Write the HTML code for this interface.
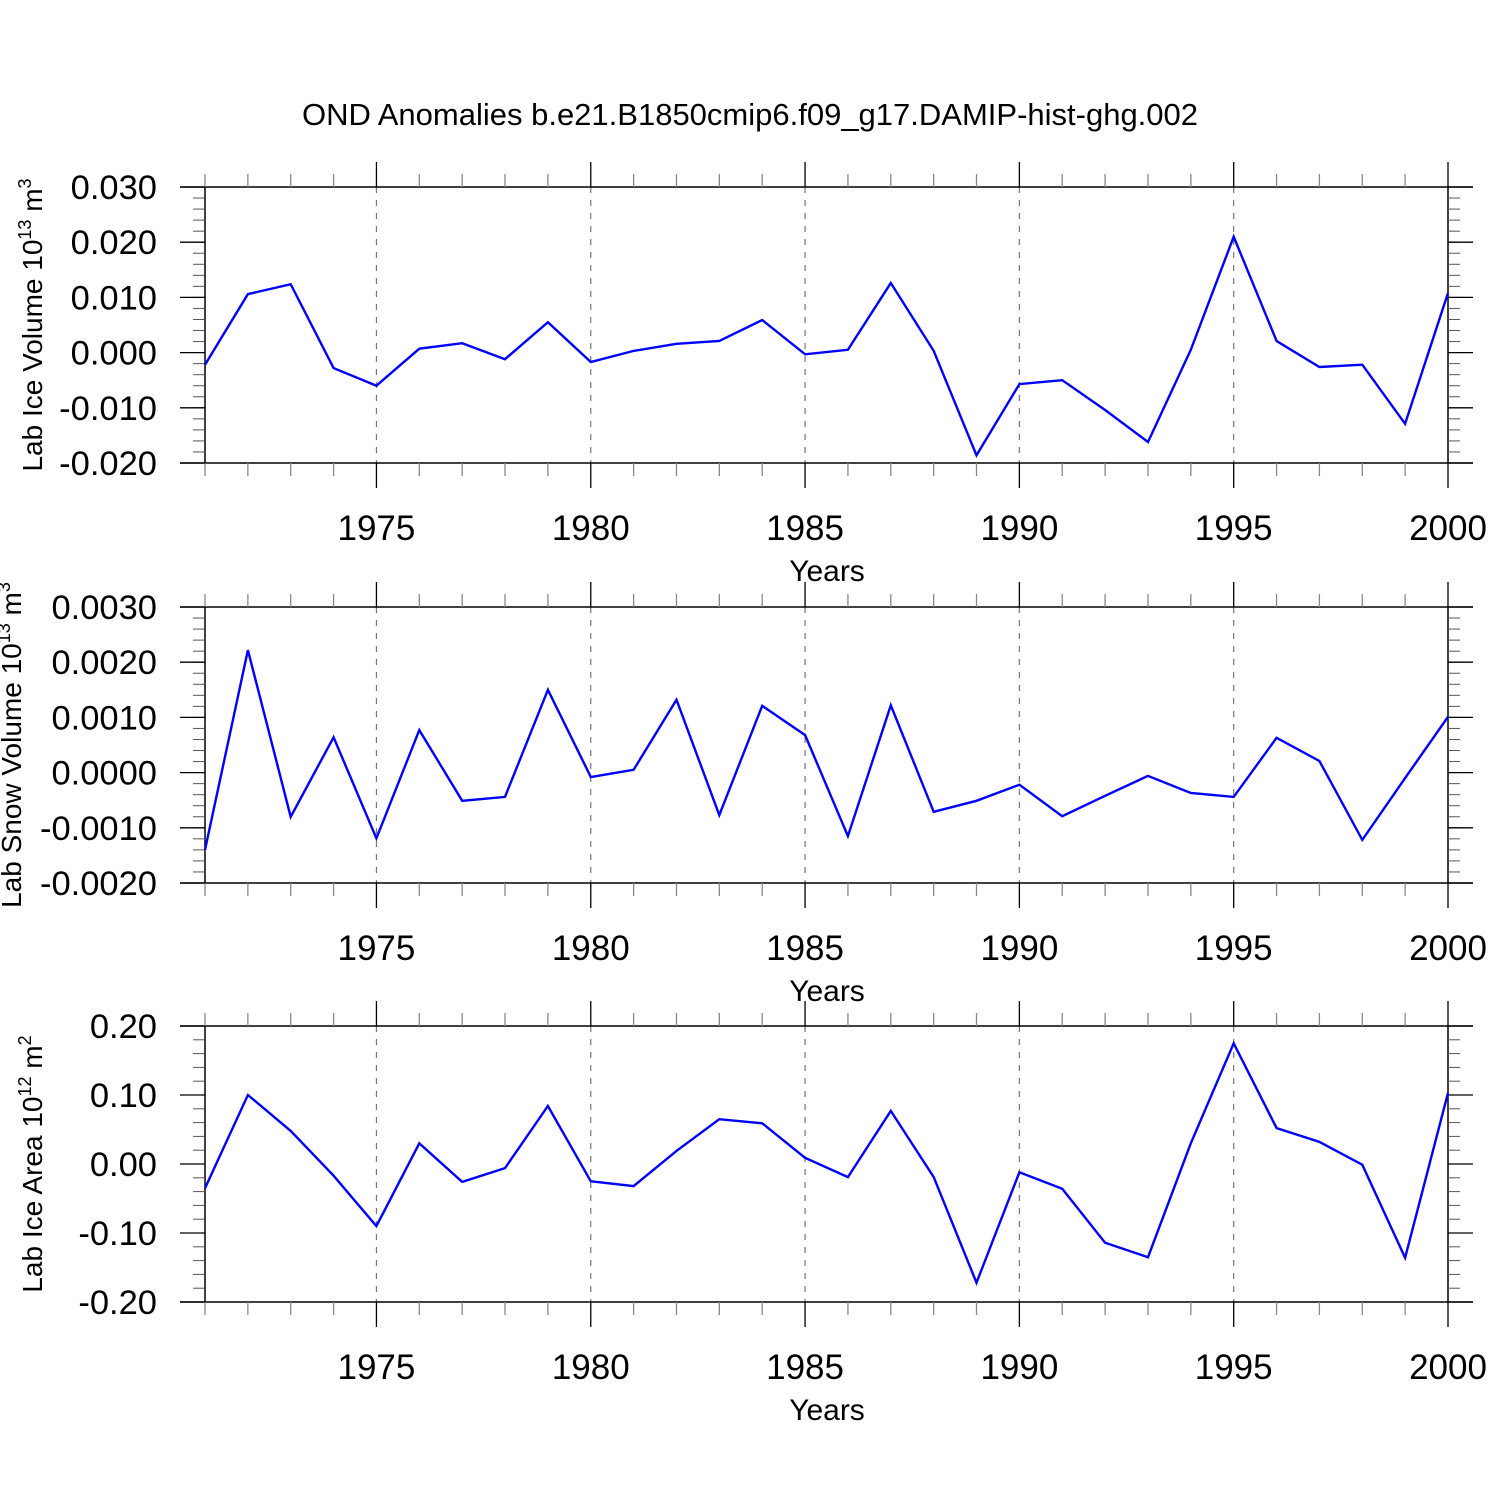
<!DOCTYPE html>
<html><head><meta charset="utf-8"><style>
html,body{margin:0;padding:0;background:#fff;}
svg{display:block;font-family:"Liberation Sans",sans-serif;}
</style></head><body>
<svg id="chart" width="1500" height="1500" viewBox="0 0 1500 1500" xmlns="http://www.w3.org/2000/svg">
<text x="750" y="125" text-anchor="middle" font-size="31">OND Anomalies b.e21.B1850cmip6.f09_g17.DAMIP-hist-ghg.002</text>
</svg>
<script>
const years = [1971,1972,1973,1974,1975,1976,1977,1978,1979,1980,1981,1982,1983,1984,1985,1986,1987,1988,1989,1990,1991,1992,1993,1994,1995,1996,1997,1998,1999,2000];
const iceVolume = [-0.0022,0.0106,0.0124,-0.0028,-0.0060,0.0007,0.0017,-0.0012,0.0055,-0.0017,0.0003,0.0016,0.0021,0.0059,-0.0003,0.0005,0.0126,0.0003,-0.0186,-0.0057,-0.0050,-0.0104,-0.0162,0.0005,0.0210,0.0021,-0.0026,-0.0022,-0.0129,0.0108];
const snowVolume = [-0.00140,0.00222,-0.00080,0.00064,-0.00119,0.00077,-0.00051,-0.00044,0.00150,-0.00008,0.00005,0.00132,-0.00077,0.00121,0.00068,-0.00115,0.00122,-0.00071,-0.00051,-0.00022,-0.00079,-0.00042,-0.00006,-0.00037,-0.00044,0.00063,0.00021,-0.00122,-0.00010,0.00101];
const iceArea = [-0.035,0.100,0.048,-0.017,-0.090,0.030,-0.026,-0.006,0.084,-0.025,-0.032,0.019,0.065,0.059,0.009,-0.019,0.077,-0.019,-0.172,-0.012,-0.036,-0.114,-0.135,0.030,0.175,0.052,0.032,-0.001,-0.136,0.103];
const xTickYears = [1975,1980,1985,1990,1995,2000];
const iceVolTicks = [-0.020,-0.010,0.000,0.010,0.020,0.030];
const iceVolLabels = ["-0.020","-0.010","0.000","0.010","0.020","0.030"];
const snowTicks = [-0.0020,-0.0010,0.0000,0.0010,0.0020,0.0030];
const snowLabels = ["-0.0020","-0.0010","0.0000","0.0010","0.0020","0.0030"];
const areaTicks = [-0.20,-0.10,0.00,0.10,0.20];
const areaLabels = ["-0.20","-0.10","0.00","0.10","0.20"];

const NS = "http://www.w3.org/2000/svg";
const svg = document.getElementById("chart");
function mk(tag, attrs, parent){const e=document.createElementNS(NS,tag);for(const k in attrs)e.setAttribute(k,attrs[k]);(parent||svg).appendChild(e);return e;}
const X0=205, X1=1448, Y0=1971, Y1=2000;
const xScale = y => X0 + (y - Y0) * (X1 - X0) / (Y1 - Y0);

function panel(name, top, bottom, vmin, vmax, ticks, labels, minorStep, data, titleParts, titleX){
  const g = mk("g", {});
  
  
  const yScale = v => bottom - (v - vmin) * (bottom - top) / (vmax - vmin);
  xTickYears.slice(0,5).forEach(yr=>{
    const l = mk("line",{x1:xScale(yr),x2:xScale(yr),y1:top,y2:bottom,stroke:"#777","stroke-width":1.2,"stroke-dasharray":"6,7"},g);
    
    
  });
  [[180,1473,top,top],[180,1473,bottom,bottom],[X0,X0,top,bottom],[X1,X1,top,bottom]].forEach(c=>{
    mk("line",{x1:c[0],x2:c[1],y1:c[2],y2:c[3],stroke:"#000","stroke-width":1.5},g);
  });
  years.forEach(yr=>{
    const major = yr % 5 === 0;
    const len = major ? 25 : 13;
    const col = major ? "#000" : "#888";
    const x = xScale(yr);
    mk("line",{x1:x,x2:x,y1:top,y2:top-len,stroke:col,"stroke-width":1.3},g);
    mk("line",{x1:x,x2:x,y1:bottom,y2:bottom+len,stroke:col,"stroke-width":1.3},g);
  });
  const step=(vmax-vmin)/minorStep;
  for(let i=0;i<=minorStep;i++){
    const y=yScale(vmin+i*step);
    mk("line",{x1:X0,x2:X0-12,y1:y,y2:y,stroke:"#555","stroke-width":1},g);
    mk("line",{x1:X1,x2:X1+12,y1:y,y2:y,stroke:"#555","stroke-width":1},g);
  }
  ticks.forEach((v,i)=>{
    const y=yScale(v);
    mk("line",{x1:X0,x2:180,y1:y,y2:y,stroke:"#000","stroke-width":1.3},g);
    mk("line",{x1:X1,x2:1473,y1:y,y2:y,stroke:"#000","stroke-width":1.3},g);
    const t=mk("text",{x:157,y:y+12,"text-anchor":"end","font-size":34.5},g);
    t.textContent=labels[i];
    
    
  });
  xTickYears.forEach(yr=>{
    const t=mk("text",{x:xScale(yr),y:bottom+77,"text-anchor":"middle","font-size":35},g);
    t.textContent=yr;
    
    
  });
  const xt=mk("text",{x:827,y:bottom+118,"text-anchor":"middle","font-size":30},g);
  xt.textContent="Years";
  
  
  const cy=(top+bottom)/2;
  const yt=mk("text",{x:0,y:0,"text-anchor":"middle","font-size":28,transform:`translate(${titleX},${cy}) rotate(-90)`},g);
  
  
  const a=mk("tspan",{},yt); a.textContent=titleParts[0];
  const b=mk("tspan",{dy:-11,"font-size":18},yt); b.textContent=titleParts[1];
  const c=mk("tspan",{dy:11},yt); c.textContent=" "+titleParts[2];
  const d=mk("tspan",{dy:-11,"font-size":18},yt); d.textContent=titleParts[3];
  const pts=years.map((yr,i)=>xScale(yr).toFixed(1)+","+yScale(data[i]).toFixed(1)).join(" ");
  const pl=mk("polyline",{points:pts,fill:"none",stroke:"#0000ff","stroke-width":2.4,"stroke-linejoin":"miter"},g);
  
  
}
panel("ice-volume",187,463,-0.020,0.030,iceVolTicks,iceVolLabels,25,iceVolume,["Lab Ice Volume 10","13","m","3"],42);
panel("snow-volume",607,883,-0.0020,0.0030,snowTicks,snowLabels,25,snowVolume,["Lab Snow Volume 10","13","m","3"],21);
panel("ice-area",1026,1302,-0.20,0.20,areaTicks,areaLabels,20,iceArea,["Lab Ice Area 10","12","m","2"],42);
</script>
</body></html>
